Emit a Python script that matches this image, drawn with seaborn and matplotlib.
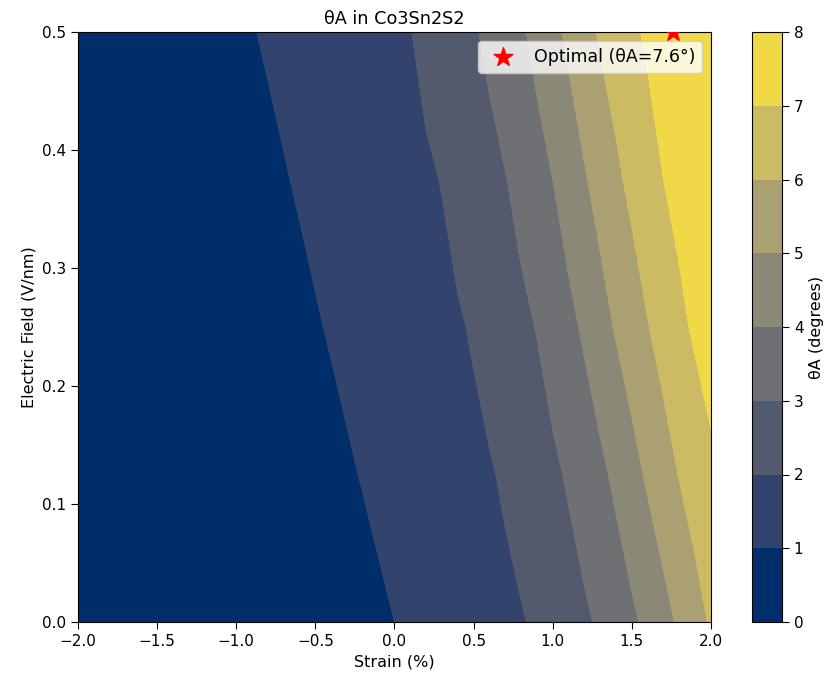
import numpy as np
import matplotlib
matplotlib.use("Agg")
import matplotlib.pyplot as plt
import seaborn as sns

sns.set_style("ticks", {"axes.edgecolor": "black", "text.color": "black",
                        "xtick.color": "black", "ytick.color": "black",
                        "axes.labelcolor": "black"})
plt.rcParams['font.family'] = ['DejaVu Sans']

# strain grid (%)
strain = [-2.0, -1.6, -1.2, -1.0, -0.8, -0.6, -0.4, -0.2, 0.0, 0.1, 0.2, 0.3, 0.4,
          0.5, 0.6, 0.7, 0.8, 0.9, 1.0, 1.1, 1.2, 1.3, 1.4, 1.5, 1.6, 1.7, 1.8,
          1.9, 2.0]
# electric field grid (V/nm)
field = [0.0, 0.125, 0.25, 0.375, 0.5]

theta_E0000 = [0.05, 0.05, 0.05, 0.05, 0.059, 0.294, 0.529, 0.765, 1.000, 1.118,
               1.235, 1.353, 1.471, 1.588, 1.706, 1.824, 1.941, 2.122, 2.366, 2.610,
               2.854, 3.138, 3.483, 3.828, 4.227, 4.682, 5.150, 5.650, 6.107]
theta_E0125 = [0.05, 0.05, 0.05, 0.135, 0.360, 0.584, 0.809, 1.034, 1.258, 1.371,
               1.483, 1.596, 1.708, 1.820, 1.933, 2.098, 2.341, 2.585, 2.829, 3.103,
               3.448, 3.793, 4.190, 4.667, 5.136, 5.591, 6.038, 6.423, 6.808]
theta_E0250 = [0.05, 0.05, 0.185, 0.402, 0.620, 0.837, 1.054, 1.272, 1.489, 1.598,
               1.707, 1.815, 1.924, 2.071, 2.310, 2.548, 2.786, 3.036, 3.393, 3.750,
               4.143, 4.619, 5.087, 5.522, 5.957, 6.375, 6.792, 7.140, 7.420]
theta_E0375 = [0.05, 0.05, 0.432, 0.642, 0.853, 1.063, 1.274, 1.484, 1.695, 1.800,
               1.905, 2.024, 2.259, 2.494, 2.729, 2.965, 3.298, 3.649, 4.000, 4.455,
               4.909, 5.364, 5.818, 6.231, 6.615, 7.000, 7.280, 7.450, 7.520]
theta_E0500 = [0.05, 0.263, 0.667, 0.869, 1.071, 1.273, 1.475, 1.677, 1.879, 1.980,
               2.190, 2.429, 2.667, 2.905, 3.200, 3.533, 3.867, 4.273, 4.727, 5.190,
               5.667, 6.107, 6.464, 6.821, 7.143, 7.430, 7.590, 7.560, 7.500]

levels = [0, 1, 2, 3, 4, 5, 6, 7, 8]

opt_strain = 1.76
opt_field = 0.5
opt_theta = 7.6

fig = plt.figure(figsize=(8.29, 6.84), dpi=100)
ax = fig.add_axes([78/829, 62/684, 633/829, 590/684])
cax = fig.add_axes([752/829, 62/684, 30/829, 590/684])

X, Y = np.meshgrid(np.array(strain), np.array(field))
Z = np.array([theta_E0000, theta_E0125, theta_E0250, theta_E0375, theta_E0500])
cmap = sns.color_palette("cividis", as_cmap=True)
cf = ax.contourf(X, Y, Z, levels=levels, cmap=cmap)

ax.scatter([opt_strain], [opt_field], marker='*', s=200, color='red',
           label=f"Optimal (θA={opt_theta}°)", zorder=5)

cb = fig.colorbar(cf, cax=cax)
cb.set_label("θA (degrees)", fontsize=11.5)
cb.ax.tick_params(labelsize=11, length=5)

ax.set_xlim(-2.0, 2.0)
ax.set_ylim(0.0, 0.5)
ax.set_xlabel("Strain (%)", fontsize=11.5)
ax.set_ylabel("Electric Field (V/nm)", fontsize=11.5)
ax.set_title("θA in Co3Sn2S2", fontsize=12.7)
ax.tick_params(labelsize=11, length=5)
ax.legend(loc="upper right", fontsize=12.5)

fig.savefig("out.png", dpi=100)
